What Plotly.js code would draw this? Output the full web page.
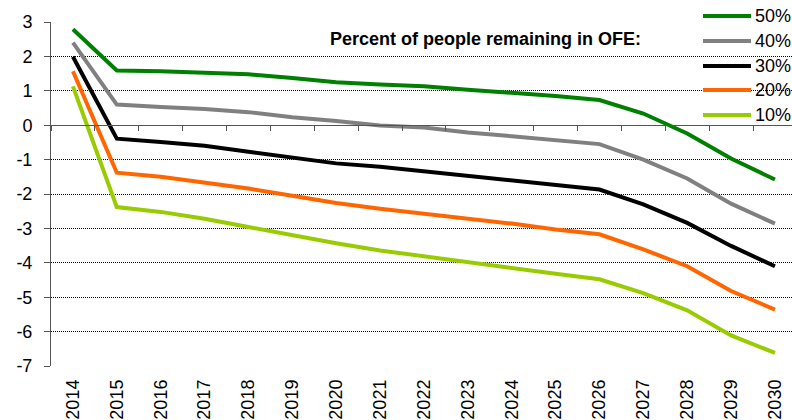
<!DOCTYPE html>
<html>
<head>
<meta charset="utf-8">
<script src="https://cdn.plot.ly/plotly-3.0.1.min.js"></script>
<style>
  html, body { margin: 0; padding: 0; background: #fff; }
  #chart { width: 792px; height: 420px; }
</style>
</head>
<body>
<div id="chart"></div>
<script>
// Years on the horizontal axis
const years = [2014, 2015, 2016, 2017, 2018, 2019, 2020, 2021, 2022,
               2023, 2024, 2025, 2026, 2027, 2028, 2029, 2030];

// Share of people remaining in OFE, one series per scenario
const seriesNames = ['50%', '40%', '30%', '20%', '10%'];
const s50 = [2.79, 1.59, 1.57, 1.53, 1.48, 1.37, 1.25, 1.18, 1.13, 1.03, 0.94, 0.85, 0.73, 0.34, -0.24, -0.97, -1.58];
const s40 = [2.40, 0.60, 0.53, 0.47, 0.38, 0.23, 0.12, -0.01, -0.07, -0.21, -0.32, -0.44, -0.55, -1.00, -1.55, -2.28, -2.86];
const s30 = [1.99, -0.39, -0.49, -0.60, -0.77, -0.95, -1.11, -1.21, -1.34, -1.48, -1.61, -1.73, -1.87, -2.30, -2.84, -3.51, -4.10];
const s20 = [1.57, -1.38, -1.50, -1.66, -1.84, -2.05, -2.26, -2.43, -2.57, -2.72, -2.86, -3.03, -3.17, -3.61, -4.10, -4.82, -5.36];
const s10 = [1.13, -2.38, -2.52, -2.72, -2.96, -3.20, -3.43, -3.64, -3.81, -4.00, -4.17, -4.32, -4.48, -4.88, -5.38, -6.11, -6.62];
const seriesValues = [s50, s40, s30, s20, s10];

const colors = ['#008000', '#808080', '#000000', '#FF6600', '#99CC00'];

// y axis ticks, labelled with a plain hyphen for negatives
const yTicks = [3, 2, 1, 0, -1, -2, -3, -4, -5, -6, -7];
const yTickText = ['3', '2', '1', '0', '-1', '-2', '-3', '-4', '-5', '-6', '-7'];

const W = 792, H = 420;
const M = { l: 51, r: 0, t: 22, b: 54 };
const plotW = W - M.l - M.r;
const plotH = H - M.t - M.b;
const pxPerYear = 43.875;
const xMin = years[0] - 0.5;
const xMax = xMin + plotW / pxPerYear;

const FONT = 'Liberation Sans, Arial, sans-serif';
const FS = 18;

// Draw from the lowest series up so the 50% line sits on top
const traces = [];
for (let i = seriesValues.length - 1; i >= 0; i--) {
  traces.push({
    type: 'scatter',
    mode: 'lines',
    name: seriesNames[i],
    x: years,
    y: seriesValues[i],
    line: { color: colors[i], width: 4 },
    hoverinfo: 'x+y+name'
  });
}
// Carrier trace for the tick marks on the zero line
traces.push({
  type: 'scatter', mode: 'lines', x: [xMin, xMax], y: [0, 0],
  xaxis: 'x2', yaxis: 'y', line: { width: 0 }, hoverinfo: 'skip', showlegend: false
});

// Category boundaries where the tick marks on the zero line sit
const boundaries = years.map(y => y - 0.5).concat([years[years.length - 1] + 0.5]);

// Legend: line samples with labels, stacked at the top right
const px2x = px => (px - M.l) / plotW;
const px2y = py => (H - M.b - py) / plotH;
const legendRows = [16, 41, 66, 90, 115];
const shapes = [];
const annotations = [];
seriesNames.forEach((name, i) => {
  shapes.push({
    type: 'line', xref: 'paper', yref: 'paper',
    x0: px2x(703), x1: px2x(751), y0: px2y(legendRows[i]), y1: px2y(legendRows[i]),
    line: { color: colors[i], width: 4 }
  });
  annotations.push({
    xref: 'paper', yref: 'paper', x: px2x(753), y: px2y(legendRows[i]),
    xanchor: 'left', yanchor: 'middle', showarrow: false,
    text: name, font: { family: FONT, size: FS, color: '#000' }
  });
});
annotations.push({
  xref: 'paper', yref: 'paper', x: px2x(485), y: px2y(39.5),
  xanchor: 'center', yanchor: 'middle', showarrow: false,
  text: '<b>Percent of people remaining in OFE:</b>',
  font: { family: FONT, size: FS, color: '#000' }
});

const layout = {
  width: W, height: H,
  margin: M,
  paper_bgcolor: '#fff', plot_bgcolor: '#fff',
  showlegend: false,
  font: { family: FONT, size: FS, color: '#000' },
  xaxis: {
    range: [xMin, xMax],
    tickmode: 'array', tickvals: years, ticktext: years.map(String),
    tickangle: -90, ticks: '', showgrid: false, zeroline: false, showline: false,
    tickfont: { family: FONT, size: FS, color: '#000' },
    ticklabelstandoff: 9
  },
  xaxis2: {
    overlaying: 'x', anchor: 'free', position: 0.7,
    range: [xMin, xMax],
    tickmode: 'array', tickvals: boundaries, showticklabels: false,
    ticks: 'outside', ticklen: 5, tickwidth: 1, tickcolor: '#555',
    showline: true, linecolor: '#555', linewidth: 1,
    showgrid: false, zeroline: false
  },
  yaxis: {
    range: [-7, 3],
    tickmode: 'array', tickvals: yTicks, ticktext: yTickText,
    ticks: 'outside', ticklen: 6, tickwidth: 1, tickcolor: '#555',
    showline: true, linecolor: '#555', linewidth: 1,
    showgrid: true, gridcolor: '#000', gridwidth: 1, griddash: '1px,1px',
    zeroline: false,
    tickfont: { family: FONT, size: FS, color: '#000' },
    ticklabelstandoff: 8
  },
  shapes: shapes,
  annotations: annotations
};

Plotly.newPlot('chart', traces, layout, { staticPlot: true, displayModeBar: false });
</script>
</body>
</html>
